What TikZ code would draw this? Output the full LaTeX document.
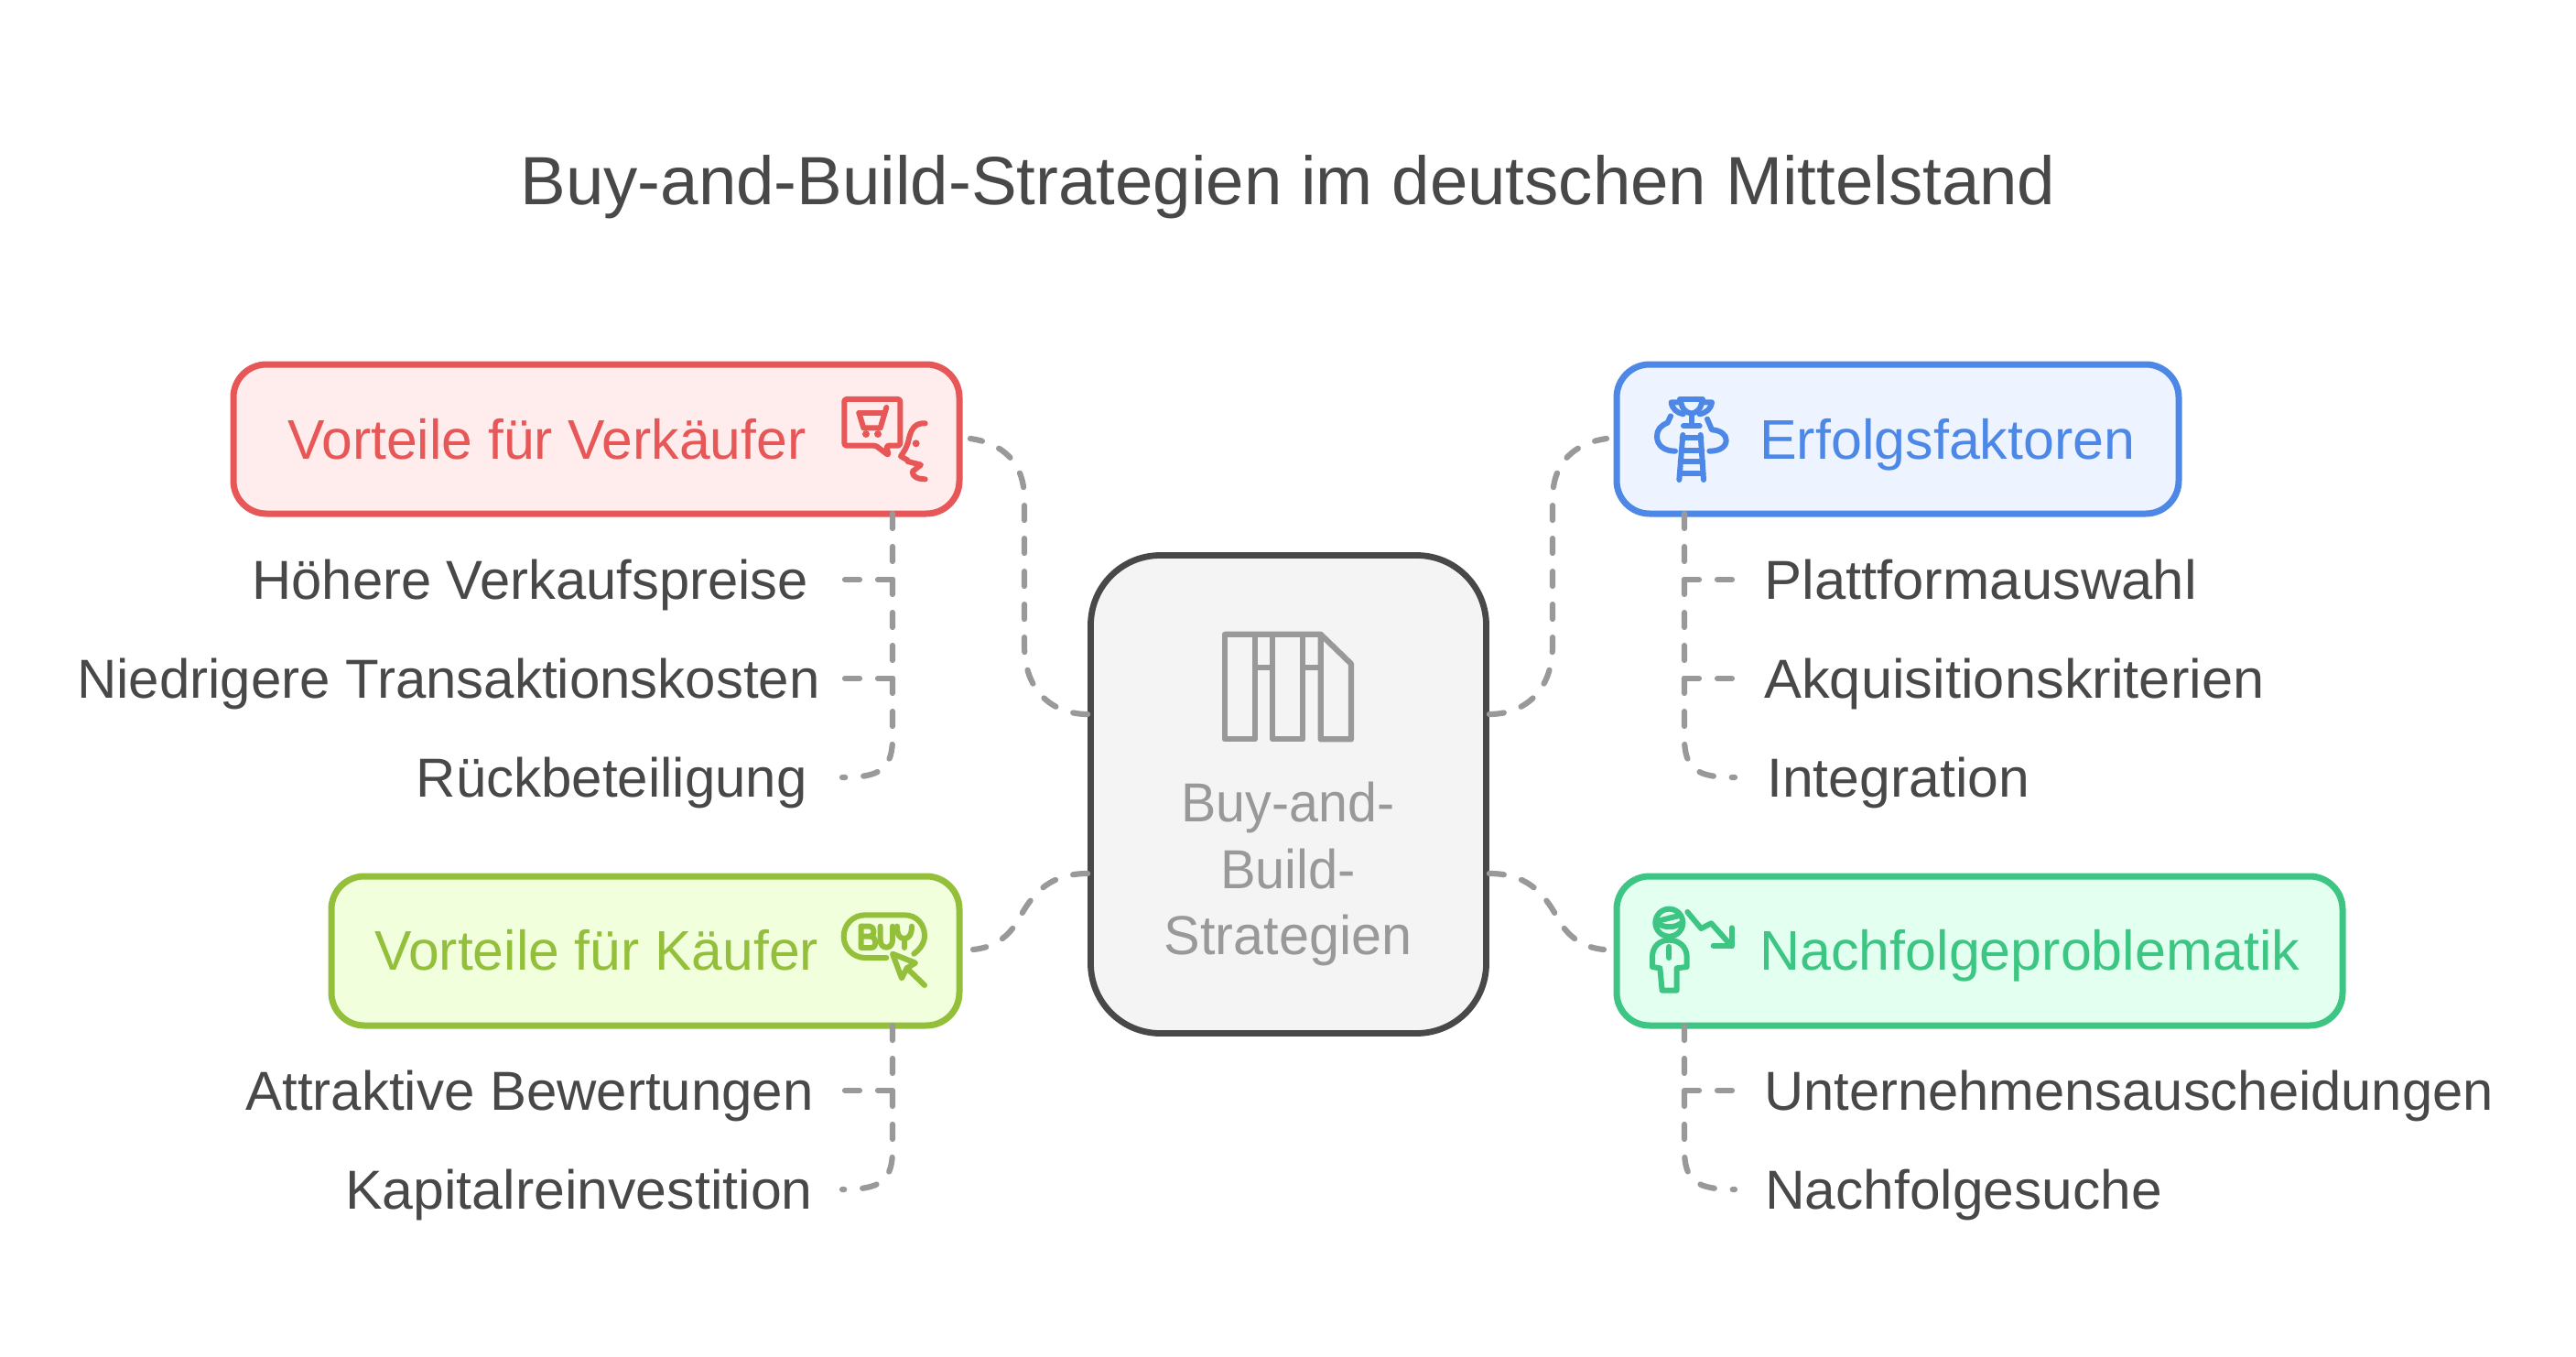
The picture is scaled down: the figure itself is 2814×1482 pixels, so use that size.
\documentclass[tikz,border=0pt]{standalone}
\usepackage{fontspec}
\setmainfont{Liberation Sans}
\definecolor{ink}{HTML}{484848}
\definecolor{dashgray}{HTML}{999999}
\definecolor{cred}{HTML}{E85757}\definecolor{fred}{HTML}{FFECEC}
\definecolor{cblue}{HTML}{4E88E7}\definecolor{fblue}{HTML}{EDF3FF}
\definecolor{cyel}{HTML}{93BF3B}\definecolor{fyel}{HTML}{F1FFDD}
\definecolor{cgrn}{HTML}{3CC583}\definecolor{fgrn}{HTML}{E2FFF0}
\definecolor{cgray}{HTML}{999999}\definecolor{fgray}{HTML}{F4F4F4}
\tikzset{
  x=1pt,y=-1pt,
  txt/.style={font=\fontsize{60}{60}\selectfont,text=ink,inner sep=0pt,text height=43pt,text depth=0pt},
  itemR/.style={txt,anchor=east},
  itemL/.style={txt,anchor=west},
  boxlabel/.style={font=\fontsize{61}{61}\selectfont,inner sep=0pt,anchor=west,text height=44pt,text depth=0pt},
  centerlabel/.style={font=\fontsize{60}{60}\selectfont,inner sep=0pt,anchor=center,text=cgray,text height=43pt,text depth=0pt},
  dashline/.style={draw=dashgray,line width=6.2pt,line cap=round,dash pattern=on 16pt off 20pt},
  hbox/.style={rounded corners=36pt,line width=7pt,inner sep=0pt},
  icon/.style={line width=6pt,line cap=round,line join=round},
  zoomed/.style={x=0.3333pt,y=-0.3333pt},
}
\begin{document}
\begin{tikzpicture}
\useasboundingbox (0,0) rectangle (2814,1482);
\fill[white] (0,0) rectangle (2814,1482);
\node[txt,font=\fontsize{74.5}{74.5}\selectfont,text height=53pt] (title) at (1407,197) {Buy-and-Build-Strategien im deutschen Mittelstand};

% boxes
\node[draw=cred,fill=fred,hbox,minimum width=793pt,minimum height=163pt] (red) at (651.5,479.5) {};
\node[draw=cblue,fill=fblue,hbox,minimum width=614pt,minimum height=163pt] (blue) at (2073,479.5) {};
\node[draw=cyel,fill=fyel,hbox,minimum width=686pt,minimum height=163pt] (yel) at (705,1038.5) {};
\node[draw=cgrn,fill=fgrn,hbox,minimum width=793pt,minimum height=163pt] (grn) at (2162.5,1038.5) {};
\node[draw=ink,fill=fgray,rounded corners=76pt,line width=6.8pt,minimum width=432pt,minimum height=522pt,inner sep=0pt] (center) at (1407.5,867.5) {};

% connectors from the centre box
\coordinate (cL1) at (center.west |- 0,780);
\coordinate (cL2) at (center.west |- 0,954);
\coordinate (cR1) at (center.east |- 0,780);
\coordinate (cR2) at (center.east |- 0,954);
\coordinate (rS) at (1060,479);
\coordinate (bS) at (1755,479);
\coordinate (yS) at (1063,1037);
\coordinate (gS) at (1752,1037);
\draw[dashline] (cL1) .. controls (1150,780) and (1119,755) .. (1119,705) -- (1119,545) .. controls (1119,505) and (1095,484) .. (rS);
\draw[dashline] (cR1) .. controls (1665,780) and (1696,755) .. (1696,705) -- (1696,545) .. controls (1696,505) and (1720,484) .. (bS);
\draw[dashline] (cL2) .. controls (1150,954) and (1130,972) .. (1114,1002) .. controls (1102,1024) and (1085,1035) .. (yS);
\draw[dashline] (cR2) .. controls (1665,954) and (1685,972) .. (1701,1002) .. controls (1713,1024) and (1730,1035) .. (gS);

\node[boxlabel,text=cred] (redl) at (314,479) {\scalebox{.994}[1]{Vorteile für Verkäufer}};
\node[boxlabel,text=cblue] (bluel) at (1922,479) {Erfolgsfaktoren};
\node[boxlabel,text=cyel] (yell) at (409,1037) {\scalebox{.993}[1]{Vorteile für Käufer}};
\node[boxlabel,text=cgrn] (grnl) at (1922,1037) {Nachfolgeproblematik};
\node[centerlabel] (cl1) at (1407,876) {\scalebox{.955}[1]{Buy-and-}};
\node[centerlabel] (cl2) at (1407,949) {\scalebox{.965}[1]{Build-}};
\node[centerlabel] (cl3) at (1407,1021) {\scalebox{.99}[1]{Strategien}};

% items
\node[itemR] (r1) at (883,633) {\scalebox{.995}[1]{Höhere Verkaufspreise}};
\node[itemR] (r2) at (896,741) {Niedrigere Transaktionskosten};
\node[itemR] (r3) at (882,849) {\scalebox{1.0}[1]{Rückbeteiligung}};
\node[itemR] (y1) at (889,1191) {Attraktive Bewertungen};
\node[itemR] (y2) at (888,1299) {\scalebox{1.014}[1]{Kapitalreinvestition}};
\node[itemL] (b1) at (1927,633) {\scalebox{1.027}[1]{Plattformauswahl}};
\node[itemL] (b2) at (1927,741) {\scalebox{1.024}[1]{Akquisitionskriterien}};
\node[itemL] (b3) at (1930,849) {\scalebox{1.012}[1]{Integration}};
\node[itemL] (g1) at (1927,1191) {\scalebox{.995}[1]{Unternehmensauscheidungen}};
\node[itemL] (g2) at (1928,1299) {\scalebox{1.008}[1]{Nachfolgesuche}};

% list connectors
\coordinate (rT) at (975,561);
\coordinate (bT) at (1840,561);
\coordinate (yT) at (975,1120);
\coordinate (gT) at (1840,1120);
\coordinate (rt1) at (923,633);\coordinate (rt2) at (923,741);\coordinate (rt3) at (920,849);
\coordinate (yt1) at (923,1191);\coordinate (yt2) at (920,1299);
\coordinate (bt1) at (1892,633);\coordinate (bt2) at (1892,741);\coordinate (bt3) at (1895,849);
\coordinate (gt1) at (1892,1191);\coordinate (gt2) at (1895,1299);
\begin{scope}[dashline]
\draw (rT) -- (975,805) .. controls (975,840) and (962,849) .. (rt3);
\draw (975,633) -- (rt1);
\draw (975,741) -- (rt2);
\draw (yT) -- (975,1255) .. controls (975,1290) and (962,1299) .. (yt2);
\draw (975,1191) -- (yt1);
\draw (bT) -- (1840,805) .. controls (1840,840) and (1853,849) .. (bt3);
\draw (1840,633) -- (bt1);
\draw (1840,741) -- (bt2);
\draw (gT) -- (1840,1255) .. controls (1840,1290) and (1853,1299) .. (gt2);
\draw (1840,1191) -- (gt1);
\end{scope}

% red icon
\begin{scope}[shift={(880,380)},zoomed,icon,draw=cred]
\draw[rounded corners=2.5pt] (127,168) -- (310,168) -- (310,320) -- (265,320) -- (272,352) -- (230,320) -- (127,320) -- cycle;
\draw (175,213) -- (255,213);
\draw (175,213) -- (190,262) -- (245,262) -- (265,195);
\fill[cred] (198,282) circle (12);
\fill[cred] (237,282) circle (12);
\draw (392,247) .. controls (355,245) and (345,270) .. (338,300) .. controls (333,325) and (322,340) .. (312,355) -- (335,368) -- (335,372) -- (378,383) -- (350,405) .. controls (350,420) and (365,430) .. (392,430);
\fill[cred] (362,313) circle (12);
\end{scope}

% blue icon
\begin{scope}[shift={(1780,410)},zoomed,icon,draw=cblue]
\draw (165,78) -- (240,78);
\draw (168,80) .. controls (170,110) and (185,122) .. (203,125) .. controls (221,122) and (236,110) .. (238,80);
\draw (165,88) -- (137,88) .. controls (140,110) and (155,122) .. (176,127);
\draw (240,88) -- (270,88) .. controls (267,110) and (252,122) .. (230,127);
\draw (203,125) -- (203,165);
\draw (177,165) -- (230,165);
\draw (135,133) -- (125,155) .. controls (100,165) and (90,180) .. (90,200) .. controls (90,230) and (115,248) .. (150,248);
\draw (255,143) -- (270,178) .. controls (300,180) and (317,195) .. (317,212) .. controls (317,235) and (295,248) .. (262,248);
\draw (175,195) -- (163,342);
\draw (233,195) -- (243,342);
\draw (173,205) -- (235,205);
\draw (170,245) -- (238,245);
\draw (167,282) -- (240,282);
\draw (165,322) -- (242,322);
\end{scope}

% centre icon
\begin{scope}[shift={(1180,660)},zoomed,line width=6.2pt,line join=round,draw=cgray]
\draw (473,98) -- (788,98) -- (888,195) -- (888,442) -- (788,442) -- (788,98);
\draw (473,98) -- (573,98) -- (573,442) -- (473,442) -- cycle;
\draw (630,98) -- (730,98) -- (730,442) -- (630,442) -- cycle;
\draw (573,206) -- (630,206);
\draw (730,206) -- (788,206);
\end{scope}

% yellow icon
\begin{scope}[shift={(900,970)},zoomed,icon,draw=cyel]
\draw (205,228) -- (135,228) .. controls (95,228) and (65,195) .. (65,158) .. controls (65,120) and (95,88) .. (135,88) -- (265,88) .. controls (305,88) and (330,120) .. (330,155) .. controls (330,180) and (315,200) .. (295,215);
\draw (122,125) -- (122,195) -- (155,195) .. controls (175,195) and (175,160) .. (152,158) -- (122,158);
\draw (122,125) -- (150,125) .. controls (168,125) and (168,158) .. (152,158);
\draw (185,125) -- (185,170) .. controls (185,202) and (225,202) .. (225,170) -- (225,125);
\draw (240,125) .. controls (240,155) and (250,165) .. (263,165) .. controls (276,165) and (288,155) .. (288,125);
\draw (263,165) -- (263,195);
\draw (225,215) -- (300,245) -- (272,262) -- (255,295) -- cycle;
\draw (272,262) -- (330,318);
\end{scope}

% green icon
\begin{scope}[shift={(1780,970)},zoomed,icon,draw=cgrn]
\draw (130,113) circle (45);
\draw (92,108) .. controls (115,102) and (140,95) .. (165,90);
\draw (98,118) .. controls (115,130) and (150,130) .. (168,115);
\draw (75,258) -- (75,225) .. controls (75,190) and (100,170) .. (130,170) .. controls (160,170) and (188,190) .. (188,225) -- (188,258) -- (155,262) -- (155,335) -- (107,335) -- (100,262) -- cycle;
\draw (130,192) -- (130,228);
\draw (190,78) -- (235,132) -- (268,115) -- (335,190);
\draw (335,130) -- (335,188) -- (275,188);
\end{scope}
\end{tikzpicture}
\end{document}
